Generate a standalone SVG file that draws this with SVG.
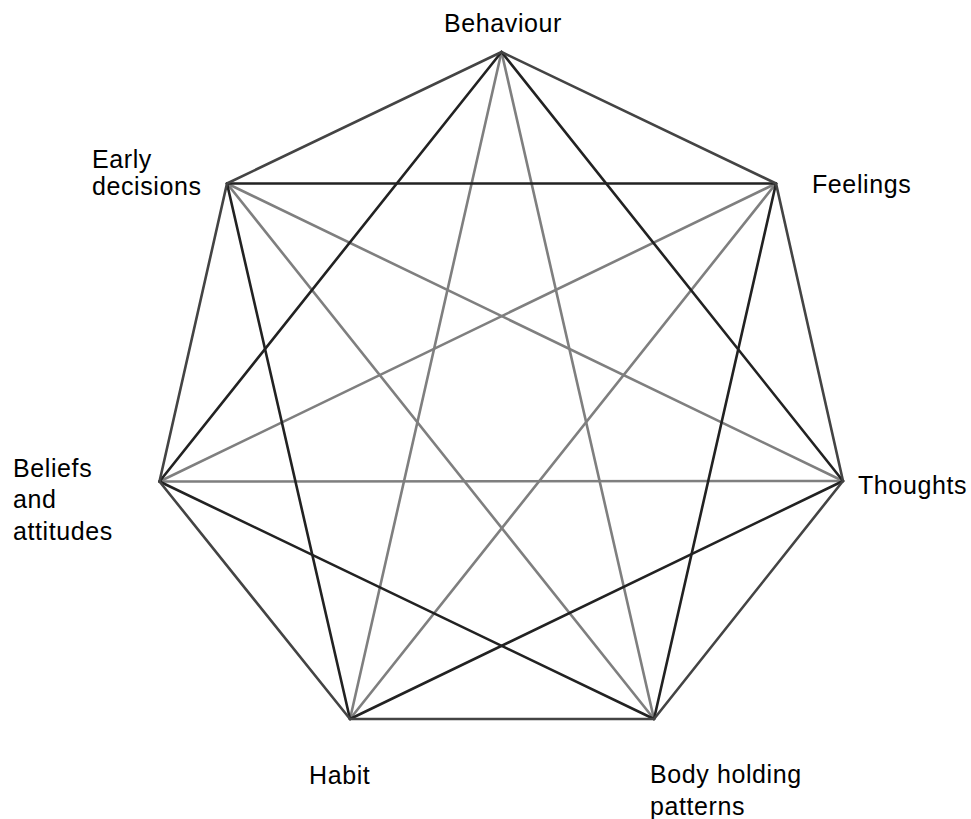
<svg xmlns="http://www.w3.org/2000/svg" width="971" height="819" viewBox="0 0 971 819">
<style>
.e{stroke:#444;stroke-width:2.6;fill:none;stroke-linecap:round}
.s2{stroke:#222;stroke-width:2.6;fill:none;stroke-linecap:round}
.s3{stroke:#7f7f7f;stroke-width:2.6;fill:none;stroke-linecap:round}
text{font-family:"Liberation Sans",Arial,sans-serif;font-size:25px;fill:#000;letter-spacing:0.6px}
</style>
<rect width="971" height="819" fill="#fff"/>
<g id="connectors">
<line class="s3" x1="501.5" y1="52" x2="654" y2="719"/>
<line class="s3" x1="776" y1="183.5" x2="350" y2="719"/>
<line class="s3" x1="843" y1="481" x2="159.5" y2="481.5"/>
<line class="s3" x1="654" y1="719" x2="227" y2="183.5"/>
<line class="s3" x1="350" y1="719" x2="501.5" y2="52"/>
<line class="s3" x1="159.5" y1="481.5" x2="776" y2="183.5"/>
<line class="s3" x1="227" y1="183.5" x2="843" y2="481"/>
<line class="s2" x1="501.5" y1="52" x2="843" y2="481"/>
<line class="s2" x1="776" y1="183.5" x2="654" y2="719"/>
<line class="s2" x1="843" y1="481" x2="350" y2="719"/>
<line class="s2" x1="654" y1="719" x2="159.5" y2="481.5"/>
<line class="s2" x1="350" y1="719" x2="227" y2="183.5"/>
<line class="s2" x1="159.5" y1="481.5" x2="501.5" y2="52"/>
<line class="s2" x1="227" y1="183.5" x2="776" y2="183.5"/>
<polygon class="e" points="501.5,52 776,183.5 843,481 654,719 350,719 159.5,481.5 227,183.5" stroke-linejoin="miter"/>
</g>
<g id="behaviour"><text x="444" y="32">Behaviour</text></g>
<g id="feelings"><text x="812" y="193">Feelings</text></g>
<g id="thoughts"><text x="858" y="494">Thoughts</text></g>
<g id="body-holding-patterns"><text x="650" y="783">Body holding</text><text x="650" y="815">patterns</text></g>
<g id="habit"><text x="309" y="784">Habit</text></g>
<g id="beliefs-and-attitudes"><text x="13" y="477">Beliefs</text><text x="13" y="508">and</text><text x="13" y="540">attitudes</text></g>
<g id="early-decisions"><text x="92" y="168">Early</text><text x="92" y="195">decisions</text></g>
</svg>
